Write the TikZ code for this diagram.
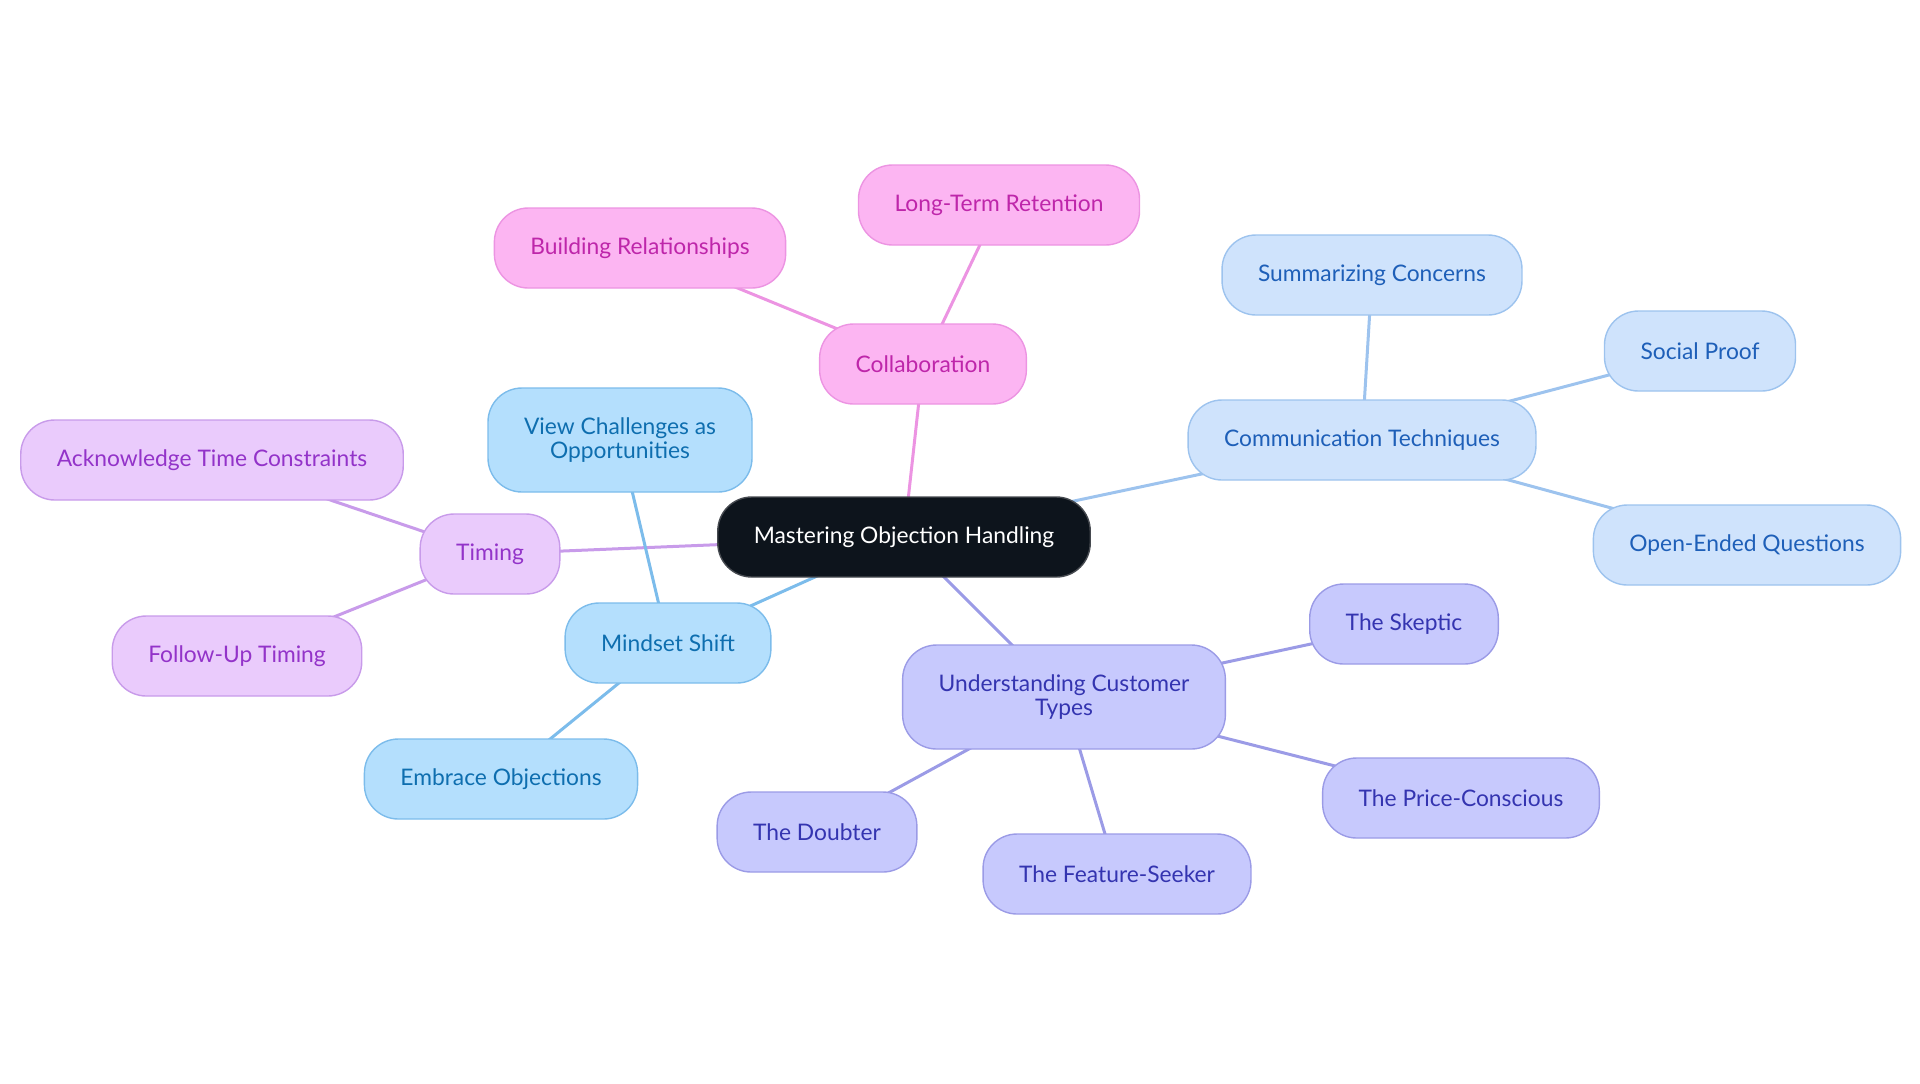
\documentclass[tikz,border=0pt]{standalone}
\usepackage{fontspec}
\setmainfont{Lato}
\usepackage{tikz}
\pgfdeclarelayer{background}
\pgfsetlayers{background,main}

\begin{document}
\begin{tikzpicture}[
  x=0.5pt, y=-0.5pt,
  mBase/.style={rectangle, rounded corners=17pt,
    minimum height=40pt, inner xsep=18pt, inner ysep=4pt,
    align=center, line width=0.7pt,
    font=\fontsize{11.4}{12.3}\selectfont},
  mRoot/.style={mBase,
    fill={rgb,255:red,13;green,20;blue,28},
    draw={rgb,255:red,70;green,74;blue,80},
    text=white},
  mPink/.style={mBase,
    fill={rgb,255:red,252;green,181;blue,242},
    draw={rgb,255:red,236;green,148;blue,226},
    text={rgb,255:red,190;green,38;blue,170}},
  mSky/.style={mBase,
    fill={rgb,255:red,180;green,223;blue,253},
    draw={rgb,255:red,124;green,188;blue,235},
    text={rgb,255:red,14;green,110;blue,175}},
  mBlue/.style={mBase,
    fill={rgb,255:red,207;green,227;blue,252},
    draw={rgb,255:red,157;green,195;blue,238},
    text={rgb,255:red,30;green,95;blue,184}},
  mViolet/.style={mBase,
    fill={rgb,255:red,234;green,203;blue,252},
    draw={rgb,255:red,200;green,155;blue,234},
    text={rgb,255:red,147;green,51;blue,201}},
  mIndigo/.style={mBase,
    fill={rgb,255:red,199;green,201;blue,253},
    draw={rgb,255:red,155;green,155;blue,230},
    text={rgb,255:red,52;green,52;blue,176}},
  lPink/.style={line width=1.5pt, color={rgb,255:red,236;green,148;blue,226}},
  lSky/.style={line width=1.5pt, color={rgb,255:red,124;green,188;blue,235}},
  lBlue/.style={line width=1.5pt, color={rgb,255:red,157;green,195;blue,238}},
  lViolet/.style={line width=1.5pt, color={rgb,255:red,200;green,155;blue,234}},
  lIndigo/.style={line width=1.5pt, color={rgb,255:red,155;green,155;blue,230}},
]
  \useasboundingbox (0,0) rectangle (1920,1083);

  %% -- Root ---------------------------------------------------------
  \node[mRoot] (root) at (904,537) {Mastering Objection Handling};

  %% -- Collaboration ------------------------------------------------
  \node[mPink] (collab) at (923,364) {Collaboration};
  \node[mPink] (retain) at (999,205) {Long-Term Retention};
  \node[mPink] (relat)  at (640,248) {Building Relationships};

  %% -- Communication Techniques -------------------------------------
  \node[mBlue] (comm)  at (1362,440) {Communication Techniques};
  \node[mBlue] (summ)  at (1372,275) {Summarizing Concerns};
  \node[mBlue] (proof) at (1700,351) {Social Proof};
  \node[mBlue] (open)  at (1747,545) {Open-Ended Questions};

  %% -- Understanding Customer Types ---------------------------------
  \node[mIndigo, minimum height=52pt] (types) at (1064,697)
    {Understanding Customer\\Types};
  \node[mIndigo] (skept)   at (1404,624) {The Skeptic};
  \node[mIndigo] (price)   at (1461,798) {The Price-Conscious};
  \node[mIndigo] (feature) at (1117,874) {The Feature-Seeker};
  \node[mIndigo] (doubt)   at (817,832)  {The Doubter};

  %% -- Mindset Shift ------------------------------------------------
  \node[mSky] (mind)    at (668,643) {Mindset Shift};
  \node[mSky, minimum height=52pt] (view) at (620,440)
    {View Challenges as\\Opportunities};
  \node[mSky] (embrace) at (501,779) {Embrace Objections};

  %% -- Timing -------------------------------------------------------
  \node[mViolet] (timing) at (490,554) {Timing};
  \node[mViolet] (ackn)   at (212,460) {Acknowledge Time Constraints};
  \node[mViolet] (follow) at (237,656) {Follow-Up Timing};

  %% -- Connectors (behind the nodes) --------------------------------
  \begin{pgfonlayer}{background}
    \draw[lPink]   (root.center) -- (collab.center);
    \draw[lBlue]   (root.center) -- (comm.center);
    \draw[lIndigo] (root.center) -- (types.center);
    \draw[lSky]    (root.center) -- (mind.center);
    \draw[lViolet] (root.center) -- (timing.center);

    \foreach \t in {retain, relat}
      \draw[lPink] (collab.center) -- (\t.center);
    \foreach \t in {summ, proof, open}
      \draw[lBlue] (comm.center) -- (\t.center);
    \foreach \t in {skept, price, feature, doubt}
      \draw[lIndigo] (types.center) -- (\t.center);
    \foreach \t in {view, embrace}
      \draw[lSky] (mind.center) -- (\t.center);
    \foreach \t in {ackn, follow}
      \draw[lViolet] (timing.center) -- (\t.center);
  \end{pgfonlayer}

\end{tikzpicture}
\end{document}
